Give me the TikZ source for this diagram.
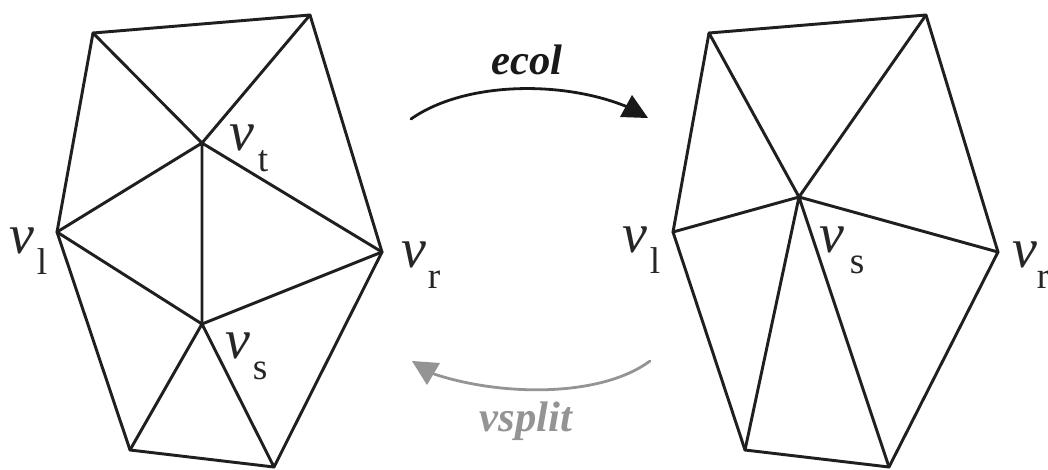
\documentclass[tikz,border=0pt]{standalone}
\usepackage{fontspec}
\setmainfont{Liberation Serif}
\newlength{\pxu}\setlength{\pxu}{0.75pt}
\newcommand{\vlabel}[2]{{\fontsize{42}{42}\selectfont\itshape v}\kern#1\pxu\raisebox{-21\pxu}{\fontsize{28}{28}\selectfont #2}}
\tikzset{
  meshline/.style={line width=2.2pt,line join=round,line cap=round,draw=black!88},
  vlab/.style={anchor=base west,inner sep=0pt,outer sep=0pt,text=black!85},
  opname/.style={anchor=base,inner sep=0pt,font=\fontsize{32}{32}\selectfont\bfseries\itshape},
  curveline/.style={line width=2.1pt,line cap=round},
  tiphead/.style={line join=round}
}
\begin{document}
\begin{tikzpicture}[x=0.75pt,y=-0.75pt]
\useasboundingbox (0,0) rectangle (1048,469);
\fill[white] (0,0) rectangle (1048,469);
% left mesh
\coordinate (la) at (93,33);
\coordinate (lb) at (310,15);
\coordinate (lc) at (382,252);
\coordinate (ld) at (274,467);
\coordinate (le) at (130,450);
\coordinate (lf) at (57,232);
\coordinate (lt) at (202,143);
\coordinate (ls) at (202,324);
\draw[meshline] (la)--(lb)--(lc)--(ld)--(le)--(lf)--cycle;
\draw[meshline] (la)--(lt) (lb)--(lt) (lf)--(lt) (lc)--(lt) (lt)--(ls);
\draw[meshline] (lf)--(ls) (lc)--(ls) (ld)--(ls) (le)--(ls);
% right mesh
\coordinate (ra) at (709,33);
\coordinate (rb) at (926,15);
\coordinate (rc) at (998,252);
\coordinate (rd) at (889,467);
\coordinate (re) at (745,450);
\coordinate (rf) at (673,232);
\coordinate (rs) at (799,197);
\draw[meshline] (ra)--(rb)--(rc)--(rd)--(re)--(rf)--cycle;
\draw[meshline] (ra)--(rs) (rb)--(rs) (rc)--(rs) (rd)--(rs) (re)--(rs) (rf)--(rs);
% labels
\node[vlab] (lvl) at (9,253) {\vlabel{3}{l}};
\node[vlab] (lvt) at (229,150) {\vlabel{4}{t}};
\node[vlab] (lvr) at (401,267) {\vlabel{2}{r}};
\node[vlab] (lvs) at (225,358) {\vlabel{3}{s}};
\node[vlab] (rvl) at (622,252) {\vlabel{3}{l}};
\node[vlab] (rvs) at (819,252) {\vlabel{6}{s}};
\node[vlab] (rvr) at (1012,267) {\vlabel{0}{r}};
% arrows
\coordinate (es) at (411,119);
\coordinate (ee) at (630,108);
\coordinate (et1) at (632,95);
\coordinate (et2) at (620,117);
\coordinate (et3) at (648,118);
\draw[curveline,black!90] (es) .. controls (465,81) and (565,80) .. (ee);
\fill[tiphead,black!90] (et1)--(et2)--(et3)--cycle;
\node[opname,text=black!90] (ecol) at (527,74) {ecol};
\coordinate (vs) at (650,361);
\coordinate (ve) at (434,374);
\coordinate (vt1) at (412,361);
\coordinate (vt2) at (440,363);
\coordinate (vt3) at (427,385);
\draw[curveline,black!42] (vs) .. controls (600,398) and (500,396) .. (ve);
\fill[tiphead,black!42] (vt1)--(vt2)--(vt3)--cycle;
\node[opname,text=black!42] (vsplit) at (526,431) {vsplit};
\end{tikzpicture}
\end{document}
